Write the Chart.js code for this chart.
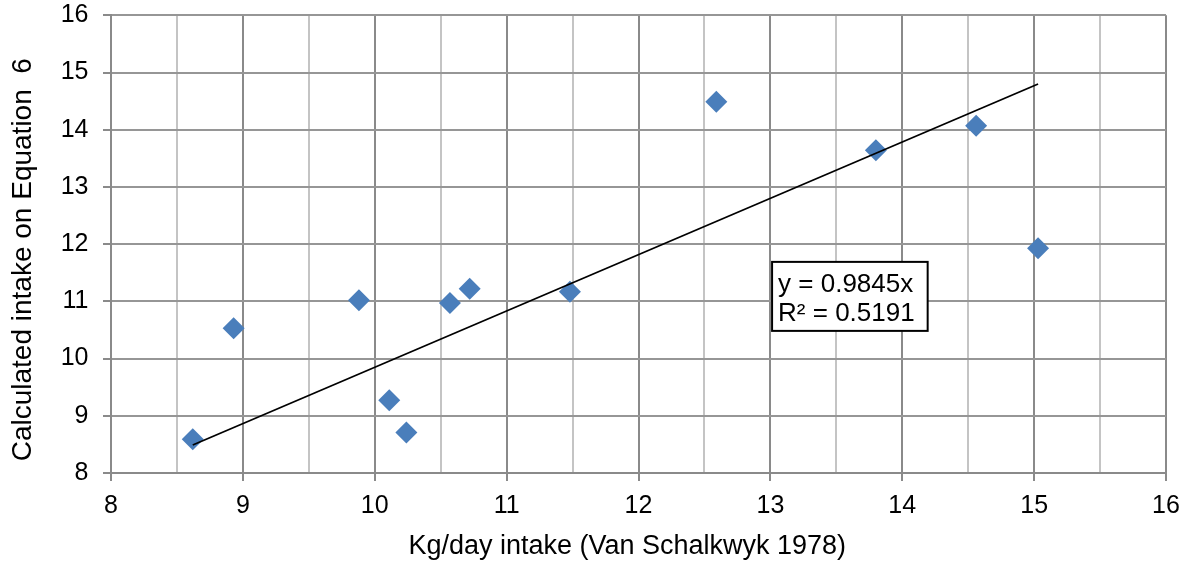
<!DOCTYPE html>
<html>
<head>
<meta charset="utf-8">
<script src="https://cdn.jsdelivr.net/npm/chart.js@4"></script>
<style>
html,body{margin:0;padding:0;background:#ffffff;}
#wrap{width:1194px;height:564px;}
</style>
</head>
<body>
<div id="wrap"><canvas id="c" width="1194" height="564"></canvas></div>
<script>
// ---- data ----
const xValues = [8.62, 8.93, 9.88, 10.11, 10.24, 10.57, 10.72, 11.48, 12.59, 13.80, 14.56, 15.03];
const yValues = [8.59, 10.53, 11.02, 9.27, 8.71, 10.97, 11.22, 11.17, 14.49, 13.64, 14.07, 11.93];
const trendX = [8.62, 15.03];
const trendY = [8.49, 14.80];
const xTickRange = [8, 16];
const yTickRange = [8, 16];
const xAxisTitle = 'Kg/day intake (Van Schalkwyk 1978)';
const yAxisTitle = 'Calculated intake on Equation  6';
const equationLines = ['y = 0.9845x', 'R\u00B2 = 0.5191'];

const FONT = '"Liberation Sans", Arial, Helvetica, sans-serif';
Chart.defaults.font.family = FONT;
Chart.defaults.color = '#000000';

const scatterPoints = xValues.map((x, i) => ({x: x, y: yValues[i]}));
const trendPoints = trendX.map((x, i) => ({x: x, y: trendY[i]}));

const equationBox = {
  id: 'equationBox',
  afterDatasetsDraw(chart, args, opts) {
    const ctx = chart.ctx;
    const xs = chart.scales.x, ys = chart.scales.y;
    const left = xs.getPixelForValue(opts.anchorX) + 1.7;
    const top = ys.getPixelForValue(opts.anchorY);
    ctx.save();
    ctx.font = '26px ' + FONT;
    const tw = Math.max(...equationLines.map(s => ctx.measureText(s).width));
    const w = tw + 19;
    const h = 69;
    ctx.fillStyle = '#ffffff';
    ctx.fillRect(left, top, w, h);
    ctx.lineWidth = 2;
    ctx.strokeStyle = '#000000';
    ctx.strokeRect(left, top, w, h);
    ctx.fillStyle = '#000000';
    ctx.textAlign = 'left';
    ctx.textBaseline = 'alphabetic';
    ctx.fillText(equationLines[0], left + 6, top + 30);
    ctx.fillText(equationLines[1], left + 6, top + 59.5);
    ctx.restore();
  }
};

const isInt = v => Math.abs(v - Math.round(v)) < 1e-9;

new Chart(document.getElementById('c'), {
  type: 'scatter',
  data: {
    datasets: [
      {
        type: 'line',
        label: 'Linear trend',
        data: trendPoints,
        borderColor: '#000000',
        borderWidth: 1.8,
        pointRadius: 0,
        pointHoverRadius: 0,
        fill: false,
        tension: 0,
        order: 0
      },
      {
        label: 'Intake',
        data: scatterPoints,
        pointStyle: 'rectRot',
        pointRadius: 11,
        pointHoverRadius: 11,
        backgroundColor: '#4a7ebb',
        borderColor: '#4a7ebb',
        borderWidth: 0,
        order: 1
      }
    ]
  },
  options: {
    responsive: false,
    animation: false,
    events: [],
    layout: { padding: { top: 15.3, right: 28, bottom: 0, left: 0 } },
    plugins: {
      legend: { display: false },
      tooltip: { enabled: false },
      equationBox: { anchorX: 13.0, anchorY: 11.69 }
    },
    scales: {
      x: {
        type: 'linear',
        min: xTickRange[0],
        max: xTickRange[1],
        afterFit: s => { s.height = 91; },
        ticks: {
          stepSize: 0.5,
          autoSkip: false,
          maxRotation: 0,
          padding: 10.5,
          font: { size: 25 },
          color: '#000000',
          callback: v => isInt(v) ? String(v) : ''
        },
        grid: {
          color: c => isInt(c.tick.value) ? '#8a8a8a' : '#c4c4c4',
          lineWidth: 2,
          tickLength: 8,
          tickColor: c => isInt(c.tick.value) ? '#8a8a8a' : 'rgba(0,0,0,0)',
          tickWidth: 2
        },
        border: { display: true, color: '#8a8a8a', width: 2 },
        title: {
          display: true,
          text: xAxisTitle + '   ',
          font: { size: 27, lineHeight: 1.2 },
          color: '#000000',
          padding: { top: 0, bottom: 1 }
        }
      },
      y: {
        type: 'linear',
        min: yTickRange[0],
        max: yTickRange[1],
        afterFit: s => { s.width = 111; s.paddingTop = 0; s.paddingBottom = 0; },
        ticks: {
          stepSize: 1,
          padding: 14.5,
          font: { size: 25 },
          color: '#000000'
        },
        grid: {
          color: '#969696',
          lineWidth: 2,
          tickLength: 8,
          tickColor: '#8a8a8a',
          tickWidth: 2
        },
        border: { display: true, color: '#8a8a8a', width: 2 },
        title: {
          display: true,
          text: yAxisTitle + '    ',
          font: { size: 28, lineHeight: 1.2 },
          color: '#000000',
          padding: { top: 6.5, bottom: 0 }
        }
      }
    }
  },
  plugins: [equationBox]
});
</script>
</body>
</html>
